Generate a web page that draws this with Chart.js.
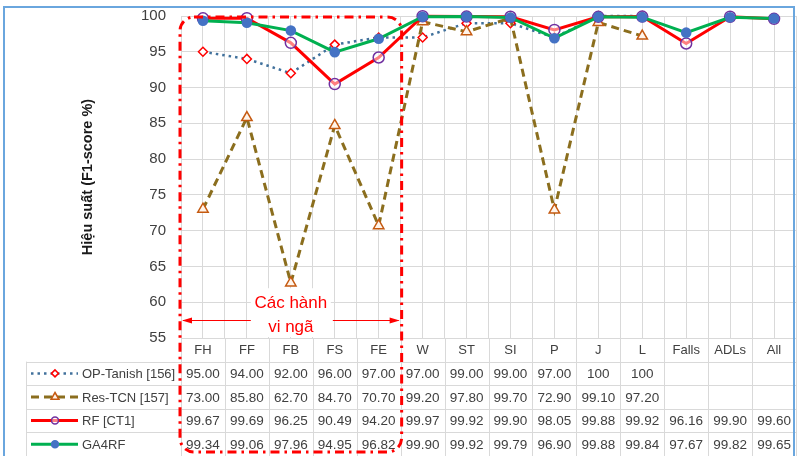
<!DOCTYPE html>
<html>
<head>
<meta charset="utf-8">
<title>F1-score</title>
<script src="https://cdn.jsdelivr.net/npm/chart.js@4.4.1/dist/chart.umd.min.js"></script>
<style>
  html, body { margin: 0; padding: 0; background: #fff; }
  #wrap { width: 798px; height: 456px; }
</style>
</head>
<body>
<div id="wrap"><canvas id="f1Chart" width="798" height="456"></canvas></div>
<script>
// categories on the x axis
const categories = ['FH', 'FF', 'FB', 'FS', 'FE', 'W', 'ST', 'SI', 'P', 'J', 'L', 'Falls', 'ADLs', 'All'];

// series values (F1-score %)
const opTanish = [95.00, 94.00, 92.00, 96.00, 97.00, 97.00, 99.00, 99.00, 97.00, 100, 100, null, null, null];
const resTcn   = [73.00, 85.80, 62.70, 84.70, 70.70, 99.20, 97.80, 99.70, 72.90, 99.10, 97.20, null, null, null];
const rfCt1    = [99.67, 99.69, 96.25, 90.49, 94.20, 99.97, 99.92, 99.90, 98.05, 99.88, 99.92, 96.16, 99.90, 99.60];
const ga4rf    = [99.34, 99.06, 97.96, 94.95, 96.82, 99.90, 99.92, 99.79, 96.90, 99.88, 99.84, 97.67, 99.82, 99.65];

// y axis
const yMin = 55;
const yMax = 100;
const yStep = 5;

const yTitle = 'Hiệu suất (F1-score %)';
const groupLabel = ['Các hành', 'vi ngã'];
const groupFirst = 0;   // FH
const groupLast = 4;    // FE

const FONT = '"Liberation Sans", Arial, sans-serif';
const GRID = '#D9D9D9';
const TEXT = '#404040';

function fmt(v) {
  if (v === null || v === undefined) return '';
  return v === 100 ? '100' : v.toFixed(2);
}

function drawMarker(ctx, style, x, y, r, stroke, fill, lw) {
  ctx.save();
  ctx.setLineDash([]);
  ctx.beginPath();
  if (style === 'rectRot') {
    ctx.moveTo(x - r, y); ctx.lineTo(x, y - r); ctx.lineTo(x + r, y); ctx.lineTo(x, y + r);
    ctx.closePath();
  } else if (style === 'triangle') {
    ctx.moveTo(x, y - r); ctx.lineTo(x + r * 0.87, y + r * 0.5); ctx.lineTo(x - r * 0.87, y + r * 0.5);
    ctx.closePath();
  } else {
    ctx.arc(x, y, r, 0, Math.PI * 2);
  }
  ctx.fillStyle = fill;
  ctx.fill();
  ctx.lineWidth = lw;
  ctx.strokeStyle = stroke;
  ctx.stroke();
  ctx.restore();
}

// data table under the plot, columns taken from the x scale
const dataTable = {
  id: 'dataTable',
  afterDraw(chart) {
    const ctx = chart.ctx;
    const xs = chart.scales.x;
    const area = chart.chartArea;
    const colW = xs.getPixelForValue(1) - xs.getPixelForValue(0);
    const rows = chart.data.datasets.length + 1;
    const rowH = (chart.height - area.bottom) / rows;
    const legendLeft = 26;

    ctx.save();
    ctx.strokeStyle = GRID;
    ctx.lineWidth = 1;
    ctx.beginPath();
    for (let r = 1; r <= rows; r++) {
      const y = Math.round(area.bottom + r * rowH) + 0.5;
      ctx.moveTo(legendLeft, y);
      ctx.lineTo(area.right, y);
    }
    for (let i = 0; i <= categories.length; i++) {
      const x = Math.round(xs.getPixelForValue(Math.min(i, categories.length - 1)) + (i < categories.length ? -colW / 2 : colW / 2)) + 0.5;
      ctx.moveTo(x, area.bottom);
      ctx.lineTo(x, chart.height);
    }
    ctx.moveTo(legendLeft + 0.5, area.bottom + rowH);
    ctx.lineTo(legendLeft + 0.5, chart.height);
    ctx.stroke();

    chart.data.datasets.forEach((ds, d) => {
      const yc = area.bottom + (d + 1.5) * rowH;
      // legend sample
      ctx.save();
      ctx.strokeStyle = ds.borderColor;
      ctx.lineWidth = ds.borderWidth;
      ctx.setLineDash(ds.borderDash || []);
      ctx.beginPath();
      ctx.moveTo(legendLeft + 5, yc);
      ctx.lineTo(legendLeft + 52, yc);
      ctx.stroke();
      ctx.restore();
      drawMarker(ctx, ds.pointStyle, legendLeft + 29, yc, ds.pointStyle === 'triangle' ? 4.5 : 3.5,
        ds.pointBorderColor, ds.pointBackgroundColor, 1.5);
      ctx.fillStyle = TEXT;
      ctx.font = '13px ' + FONT;
      ctx.textAlign = 'left';
      ctx.textBaseline = 'middle';
      ctx.fillText(ds.label, legendLeft + 56, yc + 1);

      // values
      ctx.font = '13.5px ' + FONT;
      ctx.textAlign = 'center';
      ds.data.forEach((v, i) => {
        ctx.fillText(fmt(v), xs.getPixelForValue(i), yc + 1);
      });
    });
    ctx.restore();
  }
};

// red dash-dot frame around the fall activities, its label and the outer border
const groupFrame = {
  id: 'groupFrame',
  afterDraw(chart) {
    const ctx = chart.ctx;
    const xs = chart.scales.x;
    const ys = chart.scales.y;
    const area = chart.chartArea;
    const colW = xs.getPixelForValue(1) - xs.getPixelForValue(0);
    const left = xs.getPixelForValue(groupFirst) - colW / 2 - 1;
    const right = xs.getPixelForValue(groupLast) + colW / 2 + 1;
    const top = area.top + 1;
    const bottom = chart.height - 4;
    const cx = (left + right) / 2;

    ctx.save();
    // label box
    const line1 = ys.getPixelForValue(60);
    ctx.fillStyle = '#FFFFFF';
    ctx.fillRect(cx - 40, line1 - 14, 80, area.bottom - line1 + 13);
    ctx.fillStyle = '#FF0000';
    ctx.font = '17px ' + FONT;
    ctx.textAlign = 'center';
    ctx.textBaseline = 'middle';
    ctx.fillText(groupLabel[0], cx, line1 + 1);
    ctx.fillText(groupLabel[1], cx, line1 + 25);

    // arrows
    const ay = Math.round(ys.getPixelForValue(57.5)) + 0.5;
    ctx.strokeStyle = '#FF0000';
    ctx.lineWidth = 1;
    ctx.beginPath();
    ctx.moveTo(cx - 40, ay); ctx.lineTo(left + 3, ay);
    ctx.moveTo(cx + 42, ay); ctx.lineTo(right - 3, ay);
    ctx.stroke();
    ctx.fillStyle = '#FF0000';
    ctx.beginPath();
    ctx.moveTo(left + 2, ay); ctx.lineTo(left + 12, ay - 3); ctx.lineTo(left + 12, ay + 3); ctx.closePath();
    ctx.moveTo(right - 2, ay); ctx.lineTo(right - 12, ay - 3); ctx.lineTo(right - 12, ay + 3); ctx.closePath();
    ctx.fill();

    // rounded dash-dot frame
    ctx.strokeStyle = '#FF0000';
    ctx.lineWidth = 3;
    ctx.setLineDash([9, 5, 2.5, 5]);
    ctx.beginPath();
    ctx.roundRect(left, top, right - left, bottom - top, 14);
    ctx.stroke();

    // outer border of the figure
    ctx.setLineDash([]);
    ctx.strokeStyle = '#6AA6DE';
    ctx.lineWidth = 2;
    ctx.strokeRect(4, 7, chart.width - 8, chart.height + 10);
    ctx.restore();
  }
};

new Chart(document.getElementById('f1Chart'), {
  type: 'line',
  data: {
    labels: categories,
    datasets: [
      {
        label: 'OP-Tanish [156]', data: opTanish, order: 4,
        borderColor: '#41719C', borderWidth: 2.5, borderDash: [2.5, 4],
        pointStyle: 'rectRot', pointRadius: 4.5, pointBorderWidth: 1.5,
        pointBorderColor: '#FF0000', pointBackgroundColor: '#FFFFFF'
      },
      {
        label: 'Res-TCN [157]', data: resTcn, order: 3,
        borderColor: '#8B6E1E', borderWidth: 3, borderDash: [8, 5],
        pointStyle: 'triangle', pointRadius: 6, pointBorderWidth: 1.5,
        pointBorderColor: '#C55A11', pointBackgroundColor: '#FFF4EA'
      },
      {
        label: 'RF [CT1]', data: rfCt1, order: 2,
        borderColor: '#FF0000', borderWidth: 3,
        pointStyle: 'circle', pointRadius: 5.5, pointBorderWidth: 1.5,
        pointBorderColor: '#7030A0', pointBackgroundColor: 'rgba(255,255,255,0.5)'
      },
      {
        label: 'GA4RF', data: ga4rf, order: 1,
        borderColor: '#00B050', borderWidth: 3,
        pointStyle: 'circle', pointRadius: 5.3, pointBorderWidth: 0,
        pointBorderColor: '#4472C4', pointBackgroundColor: '#4472C4'
      }
    ]
  },
  options: {
    responsive: false,
    animation: false,
    devicePixelRatio: 1,
    clip: false,
    elements: { line: { tension: 0 } },
    layout: { autoPadding: false, padding: { top: 16, right: 2, left: 0, bottom: 0 } },
    plugins: { legend: { display: false }, tooltip: { enabled: false } },
    scales: {
      x: {
        type: 'category',
        offset: true,
        grid: { offset: true, color: GRID, drawTicks: false },
        border: { color: GRID },
        ticks: { padding: 5, color: TEXT, maxRotation: 0, autoSkip: false, font: { family: FONT, size: 13 } },
        afterFit(scale) {
          scale.height = 118;
          scale.paddingLeft = 0;
          scale.paddingRight = 0;
        }
      },
      xMid: {
        type: 'category',
        position: 'bottom',
        offset: true,
        grid: { offset: false, color: GRID, drawTicks: false },
        border: { display: false },
        ticks: { display: false },
        afterFit(scale) {
          scale.height = 0;
          scale.paddingLeft = 0;
          scale.paddingRight = 0;
        }
      },
      y: {
        min: yMin,
        max: yMax,
        ticks: { stepSize: yStep, padding: 15, color: TEXT, font: { family: FONT, size: 15 } },
        grid: { color: GRID, drawTicks: false },
        border: { display: false },
        title: {
          display: true, text: yTitle, color: '#1A1A1A',
          font: { family: FONT, size: 14.5, weight: 'bold' },
          padding: { top: 79, bottom: 0 }
        },
        afterFit(scale) {
          scale.width = 181;
          scale.paddingTop = 0;
          scale.paddingBottom = 0;
        }
      }
    }
  },
  plugins: [dataTable, groupFrame]
});
</script>
</body>
</html>
